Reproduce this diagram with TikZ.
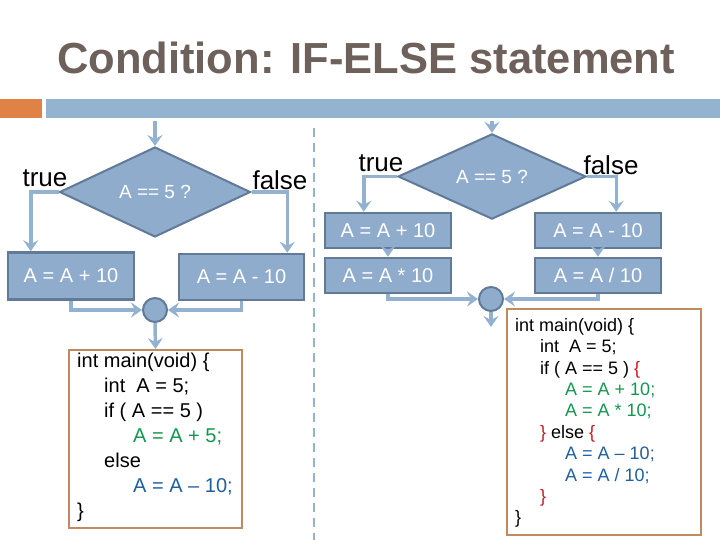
\documentclass[tikz,border=0pt]{standalone}
\usepackage{fontspec}
\setmainfont{Liberation Sans}
\usetikzlibrary{shapes.geometric,arrows.meta}
\definecolor{barblue}{RGB}{147,179,208}
\definecolor{barorange}{RGB}{224,130,70}
\definecolor{boxfill}{RGB}{143,172,204}
\definecolor{boxedge}{RGB}{96,122,152}
\definecolor{flowblue}{RGB}{146,178,208}
\definecolor{titlecol}{RGB}{110,96,90}
\definecolor{codeedge}{RGB}{196,137,92}
\definecolor{codegreen}{RGB}{20,150,80}
\definecolor{codeblue}{RGB}{30,95,160}
\definecolor{codered}{RGB}{200,25,25}
\begin{document}
\begin{tikzpicture}[x=1pt,y=-1pt,
  flow/.style={draw=flowblue, line width=3.5pt, -{Stealth[length=11pt,width=15pt,inset=4pt]}},
  decision/.style={diamond, draw=boxedge, line width=2pt, fill=boxfill, text=white, inner sep=0pt, font=\fontsize{19}{22}\selectfont},
  procbox/.style={rectangle, draw=boxedge, line width=2.5pt, fill=boxfill, text=white, inner sep=0pt, font=\fontsize{20}{24}\selectfont},
  merge/.style={circle, draw=boxedge, line width=2pt, fill=boxfill, minimum size=24pt, inner sep=0pt},
  codebox/.style={rectangle, draw=codeedge, line width=2pt, inner sep=0pt},
  lbl/.style={font=\fontsize{26}{30}\selectfont, inner sep=0pt},
  sep/.style={draw=barblue, line width=2.5pt, dash pattern=on 9pt off 6pt}
]
\useasboundingbox (0,0) rectangle (720,540);
% title
\node[font=\bfseries\fontsize{43.5}{48}\selectfont, text=titlecol, anchor=base, inner sep=0pt] (title) at (366,74) {Condition: IF-ELSE statement};
% bars
\fill[barorange] (0,99) rectangle (42,118);
\fill[barblue] (46,99) rectangle (720,118);
% separator
\draw[sep] (314,128) -- (314,540);

% ---------- left diagram ----------
\coordinate (s1) at (155,121);
\node[decision, minimum width=191pt, minimum height=90pt] (d1) at (155,192) {A == 5 ?};
\node[lbl] (t1) at (45,178) {true};
\node[lbl] (f1) at (280,180) {false};
\node[procbox, minimum width=126pt, minimum height=47pt] (b1) at (71,276) {A = A + 10};
\node[procbox, minimum width=125pt, minimum height=46pt] (b2) at (241.5,277) {A = A - 10};
\node[merge] (m1) at (155,310) {};
\node[codebox, minimum width=173pt, minimum height=178pt] (c1) at (155.5,439) {};
\node[anchor=north west, align=left, inner sep=0pt, font=\fontsize{20}{25}\selectfont] (ct1) at (77,353) {%
int main(void) \{\\
\hspace*{27pt}int\ \ A = 5;\\
\hspace*{27pt}if ( A == 5 )\\
\hspace*{56pt}\textcolor{codegreen}{A = A + 5;}\\
\hspace*{27pt}else\\
\hspace*{56pt}\textcolor{codeblue}{A = A – 10;}\\
\}};
\draw[flow] (s1) -- (d1.north);
\draw[flow] (d1.west) -| ([xshift=24pt]b1.north west);
\draw[flow] (d1.east) -| ([xshift=-18pt]b2.north east);
\draw[flow] (b1.south) |- (m1.west);
\draw[flow] (b2.south) |- (m1.east);
\draw[flow] (m1.south) -- (c1.north);

% ---------- right diagram ----------
\coordinate (s2) at (492,121);
\node[decision, minimum width=188pt, minimum height=73pt] (d2) at (492,176.5) {A == 5 ?};
\node[lbl] (t2) at (381,163) {true};
\node[lbl] (f2) at (611,165) {false};
\node[procbox, minimum width=126pt, minimum height=35pt] (r1) at (388,230.5) {A = A + 10};
\node[procbox, minimum width=126pt, minimum height=35pt] (r2) at (388,275.5) {A = A * 10};
\node[procbox, minimum width=126pt, minimum height=35pt] (r3) at (598,230.5) {A = A - 10};
\node[procbox, minimum width=126pt, minimum height=35pt] (r4) at (598,275.5) {A = A / 10};
\node[merge] (m2) at (491,299) {};
\coordinate (e2) at (491,327);
\node[codebox, minimum width=194pt, minimum height=226pt] (c2) at (604,422) {};
\node[anchor=north west, align=left, inner sep=0pt, font=\fontsize{18}{21.4}\selectfont] (ct2) at (515,318) {%
int main(void) \{\\
\hspace*{25pt}int\ \ A = 5;\\
\hspace*{25pt}if ( A == 5 ) \textcolor{codered}{\{}\\
\hspace*{50pt}\textcolor{codegreen}{A = A + 10;}\\
\hspace*{50pt}\textcolor{codegreen}{A = A * 10;}\\
\hspace*{25pt}\textcolor{codered}{\}} else \textcolor{codered}{\{}\\
\hspace*{50pt}\textcolor{codeblue}{A = A – 10;}\\
\hspace*{50pt}\textcolor{codeblue}{A = A / 10;}\\
\hspace*{25pt}\textcolor{codered}{\}}\\
\}};
\draw[flow] (s2) -- (d2.north);
\draw[flow] (d2.west) -| ([xshift=40pt]r1.north west);
\draw[flow] (d2.east) -| ([xshift=-46pt]r3.north east);
\draw[flow] (r1.south) -- (r2.north);
\draw[flow] (r3.south) -- (r4.north);
\draw[flow] (r2.south) |- (m2.west);
\draw[flow] (r4.south) |- (m2.east);
\draw[flow] (m2.south) -- (e2);
\end{tikzpicture}
\end{document}
